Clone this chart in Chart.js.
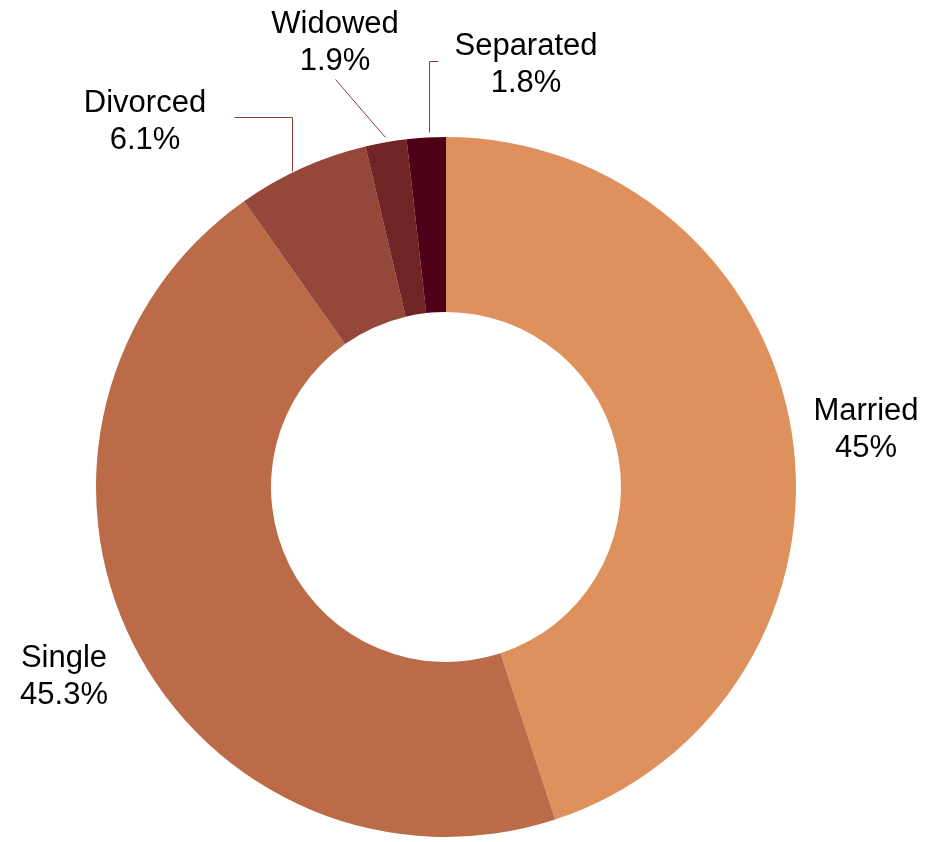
<!DOCTYPE html>
<html>
<head>
<meta charset="utf-8">
<script src="https://cdn.jsdelivr.net/npm/chart.js@4.4.1/dist/chart.umd.min.js"></script>
<style>
html,body{margin:0;padding:0;background:#fff;}
#wrap{position:relative;width:926px;height:842px;}
</style>
</head>
<body>
<div id="wrap"><canvas id="c" width="926" height="842"></canvas></div>
<script>
const categories = ["Married", "Single", "Divorced", "Widowed", "Separated"];
const values = [45, 45.3, 6.1, 1.9, 1.8];
const valueLabels = ["45%", "45.3%", "6.1%", "1.9%", "1.8%"];
const colors = ["#DF915D", "#BB6B48", "#954739", "#712325", "#4E0017"];

// label layout (centre x, baseline of first line) and leader lines
const labelLayout = [
  {x: 866, y: 420},
  {x: 64, y: 667},
  {x: 145, y: 112},
  {x: 335, y: 33},
  {x: 526, y: 55}
];
const leaderLines = [
  null,
  null,
  [[234,117],[292,117],[292,171]],
  [[335,79],[385,137]],
  [[438,61],[429,61],[429,132]]
];

const labelPlugin = {
  id: 'outLabels',
  afterDraw(chart) {
    const ctx = chart.ctx;
    ctx.save();
    ctx.strokeStyle = '#8E3B36';
    ctx.lineWidth = 1;
    leaderLines.forEach(pts => {
      if (!pts) return;
      ctx.beginPath();
      ctx.moveTo(pts[0][0] + 0.5, pts[0][1] + 0.5);
      for (let i = 1; i < pts.length; i++) ctx.lineTo(pts[i][0] + 0.5, pts[i][1] + 0.5);
      ctx.stroke();
    });
    ctx.fillStyle = '#000';
    ctx.font = '31px "Liberation Sans", Arial, sans-serif';
    ctx.textAlign = 'center';
    ctx.textBaseline = 'alphabetic';
    categories.forEach((cat, i) => {
      const p = labelLayout[i];
      ctx.fillText(cat, p.x, p.y);
      ctx.fillText(valueLabels[i], p.x, p.y + 37);
    });
    ctx.restore();
  }
};

new Chart(document.getElementById('c'), {
  type: 'doughnut',
  data: {
    labels: categories,
    datasets: [{
      data: values,
      backgroundColor: colors,
      borderWidth: 0,
      hoverOffset: 0
    }]
  },
  options: {
    responsive: false,
    animation: false,
    cutout: '50%',
    layout: {padding: {top: 137, bottom: 5, left: 0, right: 34}},
    plugins: {legend: {display: false}, tooltip: {enabled: false}}
  },
  plugins: [labelPlugin]
});
</script>
</body>
</html>
